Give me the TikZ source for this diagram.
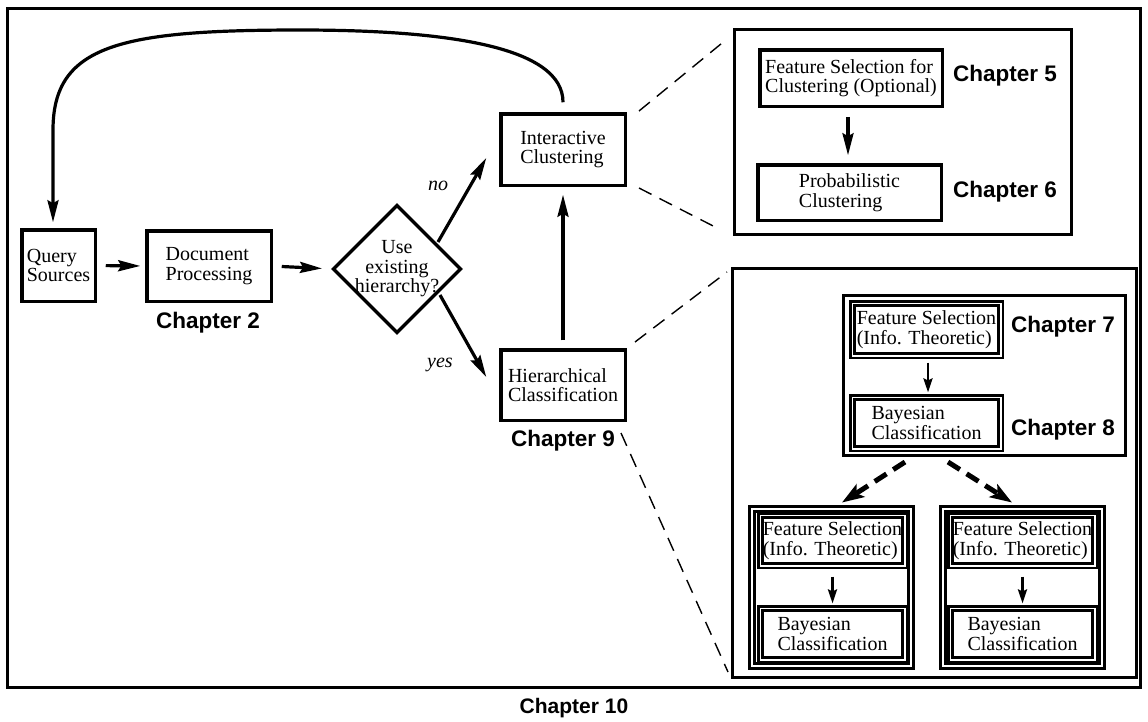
\documentclass[tikz,border=0pt]{standalone}
\usepackage{fontspec}
\setmainfont{Liberation Serif}
\newfontfamily\chapfont{Liberation Sans}
\usetikzlibrary{arrows.meta,shapes.geometric}
\begin{document}
\begin{tikzpicture}[x=1pt,y=-1pt,
  txt/.style={font=\fontsize{20}{19.5}\selectfont},
  box/.style={txt,draw,line width=3.5pt,outer sep=0pt,inner sep=2pt,align=left},
  dbox/.style={txt,draw,line width=2.5pt,double,double distance=1.8pt,outer sep=0pt,inner sep=2pt,align=left},
  gbox/.style={draw,line width=3pt,double,double distance=2pt,outer sep=0pt},
  panel/.style={draw,line width=3.3pt,outer sep=0pt},
  chap/.style={font=\chapfont\bfseries\fontsize{22.5}{24}\selectfont,anchor=base},
  lab/.style={font=\itshape\fontsize{20}{20}\selectfont,anchor=base},
  arr/.style={line width=3.2pt,-{Stealth[length=22pt,width=11pt,inset=3pt]}},
  sarr/.style={line width=2.5pt,-{Stealth[length=14pt,width=9pt,inset=2pt]}},
  dline/.style={line width=1.4pt,dash pattern=on 14pt off 9pt},
  darr/.style={line width=5pt,dash pattern=on 14pt off 8pt,-{Stealth[length=22pt,width=15pt,inset=5pt]}},
]
\useasboundingbox (0,0) rectangle (1148,721);
\fill[white] (0,0) rectangle (1148,721);
% outer frame
\draw[line width=3.3pt] (7.5,8.5) rectangle (1140.5,687.5);

% main flow
\node[box,minimum width=73.5pt,minimum height=71.5pt] (q) at (58.5,265.5) {Query\\Sources};
\node[box,minimum width=124.5pt,minimum height=70.5pt] (d) at (209,266) {Document\\Processing};
\node[draw,diamond,aspect=1,line width=3.5pt,outer sep=0pt,inner sep=0pt,minimum width=127pt,minimum height=127pt] (dia) at (397,269) {};
\node[txt,align=center] (diat) at (dia.center) {Use\\existing\\hierarchy?};
\node[box,minimum width=124.5pt,minimum height=71.5pt] (inter) at (563,149.5) {Interactive\\Clustering};
\node[box,minimum width=124.5pt,minimum height=70.5pt] (hier) at (563,385) {Hierarchical\\Classification};

\node[chap] (ch2) at (208,328) {Chapter 2};
\node[chap] (ch9) at (563,446) {Chapter 9};
\node[chap,font=\chapfont\bfseries\fontsize{21}{24}\selectfont] (ch10) at (574,713) {Chapter 10};
\node[lab] (no) at (438,190) {no};
\node[lab] (yes) at (440,367) {yes};

\draw[arr,shorten <=10.5pt,shorten >=6.5pt] (q.east) -- (d.west);
\draw[arr,shorten <=10.5pt,shorten >=11.5pt] (d.east) -- (dia.west);
\draw[arr] ([shift={(41,-27)}]dia.center) -- ([shift={(-14.5,8.5)}]inter.west);
\draw[arr] ([shift={(43,26)}]dia.center) -- ([shift={(-14.5,-8)}]hier.west);
\draw[arr,shorten <=9.5pt,shorten >=9.5pt] (hier.north) -- (inter.south);
\draw[arr] ([yshift=11.5pt]inter.north) .. controls +(0,-55) and (450,30) .. (300,30)
   .. controls (120,30) and (53,45) .. (53,130) -- ([xshift=-5.5pt,yshift=7.5pt]q.north);

% upper panel
\node[panel,minimum width=337pt,minimum height=205pt] (p1) at (903,132) {};
\node[box,minimum width=182.5pt,minimum height=56.5pt] (f5) at (851,78) {Feature Selection for\\Clustering (Optional)};
\node[box,minimum width=183.5pt,minimum height=55.5pt] (pc) at (849.5,192.5) {Probabilistic\\Clustering};
\node[chap] (ch5) at (1005,81) {Chapter 5};
\node[chap] (ch6) at (1005,197) {Chapter 6};
\draw[arr,shorten <=10.5pt,shorten >=9.5pt] ([xshift=-3pt]f5.south) -- ([xshift=-3pt]f5.south |- pc.north);

% lower panel
\node[panel,minimum width=404pt,minimum height=409pt] (p2) at (934.5,473) {};
\node[panel,minimum width=282pt,minimum height=160pt] (big) at (984.5,375.5) {};
\node[dbox,minimum width=148.2pt,minimum height=52.2pt] (f7) at (926.5,329.5) {Feature Selection\\(Info. Theoretic)};
\node[dbox,minimum width=148.2pt,minimum height=51.2pt] (b8) at (926.5,423) {Bayesian\\Classification};
\node[chap] (ch7) at (1063,332) {Chapter 7};
\node[chap] (ch8) at (1063,435) {Chapter 8};
\draw[sarr,shorten <=7pt,shorten >=5pt] ([xshift=1.5pt]f7.south) -- ([xshift=1.5pt]f7.south |- b8.north);

\node[gbox,minimum width=159pt,minimum height=157pt] (gl) at (831.5,587.5) {};
\node[dbox,minimum width=144.2pt,minimum height=50.2pt] (fl) at (832.5,540.5) {Feature Selection\\(Info. Theoretic)};
\node[dbox,minimum width=144.2pt,minimum height=51.2pt] (bl) at (832.5,634) {Bayesian\\Classification};
\draw[sarr,shorten <=11pt,shorten >=5pt] (fl.south) -- (bl.north);

\node[gbox,minimum width=159pt,minimum height=157pt] (gr) at (1022.5,587.5) {};
\node[dbox,minimum width=144.2pt,minimum height=50.2pt] (fr) at (1022.5,540.5) {Feature Selection\\(Info. Theoretic)};
\node[dbox,minimum width=144.2pt,minimum height=51.2pt] (br) at (1022.5,634) {Bayesian\\Classification};
\draw[sarr,shorten <=11pt,shorten >=5pt] (fr.south) -- (br.north);

\draw[darr] ([shift={(-79.5,6.5)}]big.south) -- ([shift={(10.5,-6.5)}]gl.north);
\draw[darr] ([shift={(-36.5,6.5)}]big.south) -- ([shift={(-10.5,-6.5)}]gr.north);

% zoom lines
\coordinate (d1a) at (639,111); \coordinate (d1b) at (727,39);
\coordinate (d2a) at (639,188); \coordinate (d2b) at (719,229);
\coordinate (d3a) at (635,342); \coordinate (d3b) at (727,272);
\coordinate (d4a) at (621,433); \coordinate (d4b) at (728,672);
\draw[dline] (d1a) -- (d1b);
\draw[dline] (d2a) -- (d2b);
\draw[dline] (d3a) -- (d3b);
\draw[dline] (d4a) -- (d4b);
\end{tikzpicture}
\end{document}
